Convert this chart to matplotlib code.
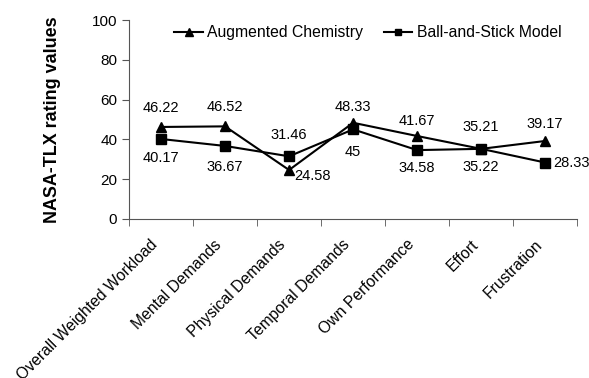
import numpy as np
import matplotlib
matplotlib.use("Agg")
import matplotlib.pyplot as plt
from matplotlib.ticker import FixedLocator

plt.rcParams['font.family'] = ['Liberation Sans', 'DejaVu Sans']

categories = ["Overall Weighted Workload", "Mental Demands", "Physical Demands",
              "Temporal Demands", "Own Performance", "Effort", "Frustration"]
augmented = [46.22, 46.52, 24.58, 48.33, 41.67, 35.21, 39.17]
ball_stick = [40.17, 36.67, 31.46, 45, 34.58, 35.22, 28.33]

# label offsets in points (dx, dy) and horizontal alignment
aug_offsets = [(0, 14, 'center'), (0, 14, 'center'), (4, -4, 'left'), (0, 11, 'center'),
               (0, 11, 'center'), (0, 16, 'center'), (0, 12, 'center')]
bs_offsets = [(0, -14, 'center'), (0, -15, 'center'), (0, 15, 'center'), (0, -16, 'center'),
              (0, -13, 'center'), (0, -13, 'center'), (6, 0, 'left')]

fig = plt.figure(figsize=(5.89, 3.78), dpi=100)
ax = fig.add_axes([0.219, 0.421, 0.761, 0.526])

x = np.arange(len(categories)) + 0.5
ax.plot(x, augmented, color='black', lw=1.5, marker='^', ms=7, label='Augmented Chemistry')
ax.plot(x, ball_stick, color='black', lw=1.5, marker='s', ms=6.5, label='Ball-and-Stick Model')

for xi, v, (dx, dy, ha) in zip(x, augmented, aug_offsets):
    ax.annotate(f"{v:g}", (xi, v), xytext=(dx, dy), textcoords='offset points',
                ha=ha, va='center', fontsize=10.5)
for xi, v, (dx, dy, ha) in zip(x, ball_stick, bs_offsets):
    ax.annotate(f"{v:g}", (xi, v), xytext=(dx, dy), textcoords='offset points',
                ha=ha, va='center', fontsize=10.5)

ax.set_xlim(0, len(categories))
ax.set_ylim(0, 100)
ax.set_yticks([0, 20, 40, 60, 80, 100])
# labels sit a little left of each category centre so the rotated text ends before it
ax.set_xticks(x - 0.17)
ax.set_xticklabels(categories, rotation=45, ha='right', rotation_mode='anchor', fontsize=11.3)
ax.xaxis.set_minor_locator(FixedLocator(np.arange(len(categories) + 1)))
ax.tick_params(axis='x', which='major', length=0, pad=13)
ax.tick_params(axis='x', which='minor', length=5, color='#555555')
ax.tick_params(axis='y', length=5, color='#555555', labelsize=11)

for side in ['top', 'right']:
    ax.spines[side].set_visible(False)
for side in ['left', 'bottom']:
    ax.spines[side].set_color('#555555')

ax.set_ylabel("NASA-TLX rating values", fontsize=12.9, fontweight='bold', labelpad=22)

ax.legend(loc='center', bbox_to_anchor=(0.533, 0.935), ncol=2, frameon=False,
          fontsize=11.3, handlelength=1.8, handletextpad=0.3, columnspacing=1.3,
          markerscale=0.75)

fig.savefig("out.png", dpi=100)
